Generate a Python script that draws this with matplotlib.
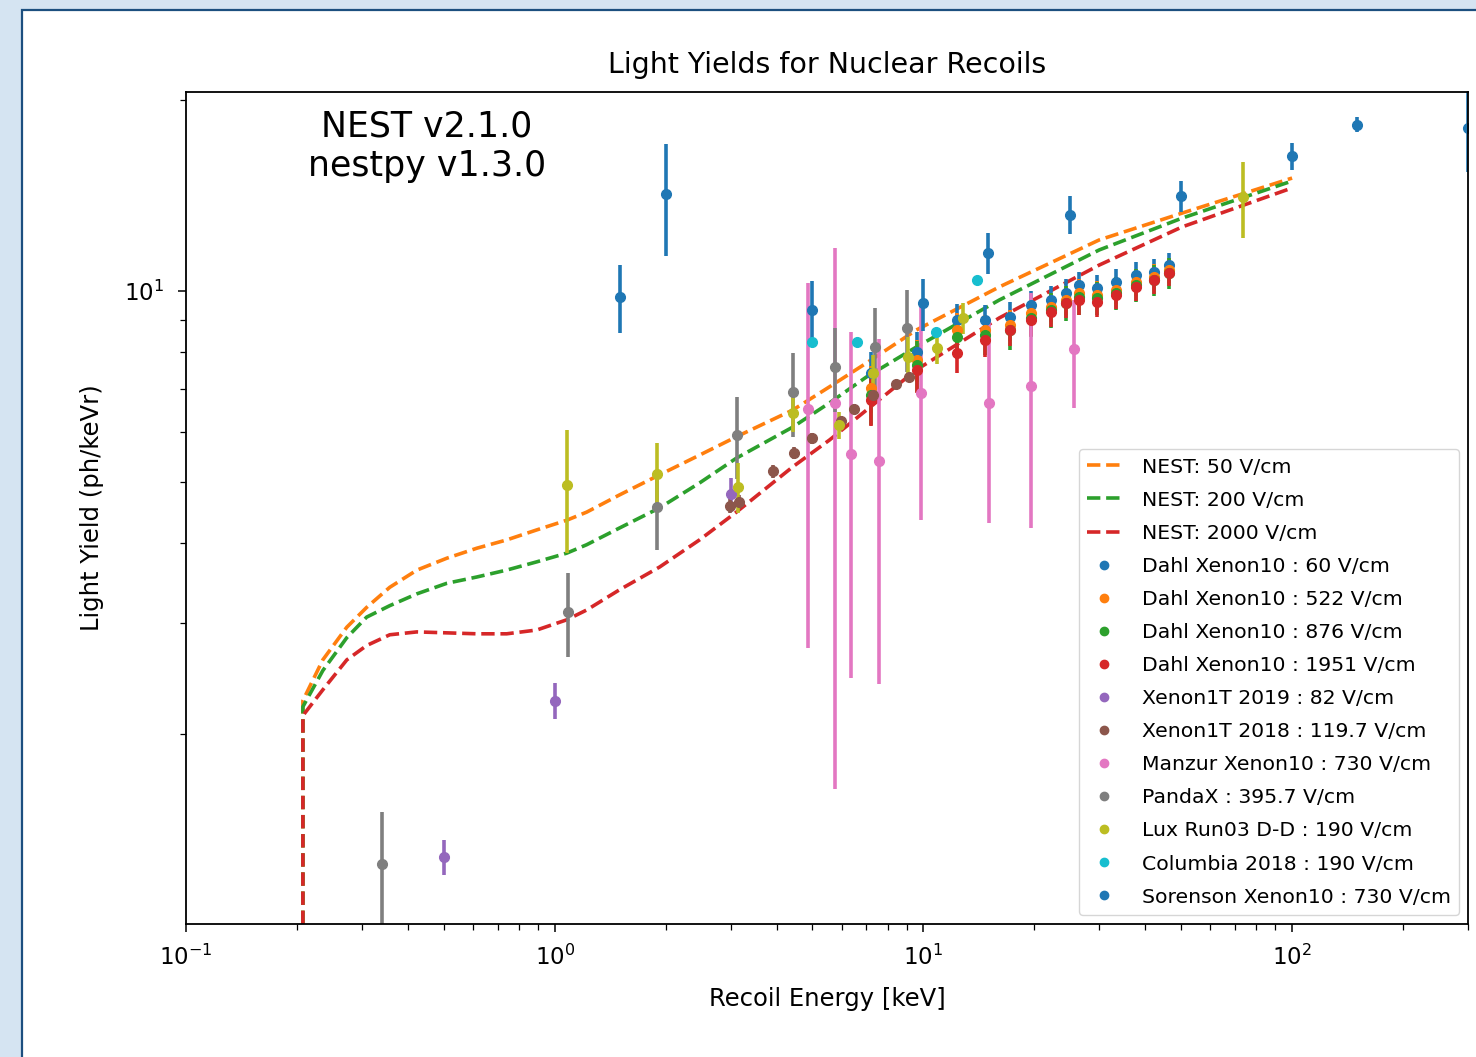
import matplotlib.pyplot as plt
from matplotlib.lines import Line2D
from matplotlib.patches import Rectangle
from matplotlib.ticker import NullFormatter

# NEST yield curves (keV, ph/keV)
nest_energy = [0.207, 0.2075, 0.235, 0.273, 0.309, 0.357, 0.423, 0.51, 0.615, 0.741, 0.894,
               1.078, 1.221, 1.5, 1.925, 2.47, 3.11, 4.42, 5.56, 7.01, 9.57, 16.07, 30.0, 50.3, 100.0]
nest_50 = [0.0, 2.26, 2.62, 2.95, 3.17, 3.41, 3.63, 3.79, 3.93, 4.05, 4.20,
           4.35, 4.48, 4.77, 5.13, 5.51, 5.89, 6.49, 7.06, 7.70, 8.68, 10.15, 12.04, 13.27, 15.07]
nest_200 = [0.0, 2.21, 2.52, 2.84, 3.06, 3.19, 3.33, 3.46, 3.54, 3.63, 3.74,
            3.86, 3.98, 4.23, 4.55, 4.98, 5.45, 6.10, 6.66, 7.32, 8.16, 9.68, 11.61, 13.03, 14.91]
nest_2000 = [0.0, 2.14, 2.35, 2.62, 2.76, 2.87, 2.90, 2.89, 2.88, 2.88, 2.92,
             3.03, 3.14, 3.38, 3.67, 4.05, 4.48, 5.28, 5.82, 6.49, 7.51, 9.07, 10.99, 12.62, 14.54]

# Dahl Xenon10
dahl_energy = [7.2, 9.6, 12.3, 14.7, 17.2, 19.6, 22.2, 24.4, 26.5, 29.5, 33.4, 37.8, 42.3, 46.4]
dahl_60 = [7.42, 8.01, 9.00, 9.00, 9.10, 9.50, 9.68, 9.93, 10.22, 10.11, 10.33, 10.60, 10.72, 10.99]
dahl_60_err = [0.6, 0.6, 0.55, 0.5, 0.5, 0.5, 0.5, 0.5, 0.5, 0.5, 0.5, 0.5, 0.5, 0.5]
dahl_522 = [7.03, 7.78, 8.68, 8.68, 8.84, 9.23, 9.44, 9.68, 9.93, 9.86, 10.04, 10.33, 10.52, 10.79]
dahl_522_err = [0.6, 0.6, 0.55, 0.5, 0.5, 0.5, 0.5, 0.5, 0.5, 0.5, 0.5, 0.5, 0.5, 0.5]
dahl_876 = [6.85, 7.64, 8.46, 8.52, 8.68, 9.07, 9.33, 9.57, 9.78, 9.75, 9.93, 10.22, 10.41, 10.68]
dahl_876_err = [0.7, 0.7, 0.65, 0.6, 0.6, 0.6, 0.6, 0.6, 0.6, 0.6, 0.6, 0.6, 0.6, 0.6]
dahl_1951 = [6.73, 7.51, 7.98, 8.37, 8.68, 9.00, 9.27, 9.57, 9.68, 9.61, 9.86, 10.15, 10.41, 10.68]
dahl_1951_err = [0.6, 0.6, 0.55, 0.5, 0.5, 0.5, 0.5, 0.5, 0.5, 0.5, 0.5, 0.5, 0.5, 0.5]

# Xenon1T 2019
x1t19_energy = [0.5, 1.0, 3.0]
x1t19_yield = [1.28, 2.26, 4.78]
x1t19_err = [0.08, 0.15, 0.29]

# Xenon1T 2018
x1t18_energy = [2.98, 3.17, 3.90, 4.47, 5.00, 5.96, 6.50, 7.32, 8.45, 9.16]
x1t18_yield = [4.58, 4.65, 5.20, 5.55, 5.86, 6.24, 6.52, 6.86, 7.13, 7.32]
x1t18_err = [0.12, 0.12, 0.12, 0.12, 0.12, 0.12, 0.12, 0.12, 0.12, 0.12]

# Manzur Xenon10
manzur_energy = [4.85, 5.74, 6.38, 7.60, 9.88, 15.1, 19.6, 25.6]
manzur_yield = [6.52, 6.67, 5.53, 5.40, 6.90, 6.65, 7.08, 8.10]
manzur_err = [3.78, 5.03, 3.08, 3.00, 2.54, 2.35, 2.85, 1.57]

# PandaX
pandax_energy = [0.34, 1.09, 1.90, 3.13, 4.44, 5.74, 7.41, 9.05]
pandax_yield = [1.25, 3.12, 4.56, 5.93, 6.93, 7.60, 8.16, 8.74]
pandax_err = [0.26, 0.47, 0.66, 0.87, 1.05, 1.15, 1.24, 1.30]

# Lux Run03 D-D
lux_energy = [1.08, 1.90, 3.15, 4.44, 5.92, 7.30, 9.10, 10.9, 12.8, 73.6]
lux_yield = [4.95, 5.15, 4.91, 6.42, 6.15, 7.42, 7.87, 8.13, 9.07, 14.05]
lux_err = [1.09, 0.60, 0.44, 0.42, 0.30, 0.50, 0.60, 0.45, 0.50, 1.93]

# Columbia 2018
columbia_energy = [5.0, 6.62, 10.8, 14.0]
columbia_yield = [8.31, 8.31, 8.62, 10.4]
columbia_err = [0.1, 0.1, 0.1, 0.1]

# Sorenson Xenon10
sorenson_energy = [1.5, 2.0, 5.0, 10.0, 15.0, 25.0, 50.0, 100.0, 150.0, 300.0]
sorenson_yield = [9.78, 14.2, 9.33, 9.56, 11.5, 13.2, 14.1, 16.3, 18.3, 18.1]
sorenson_err = [1.2, 2.85, 1.05, 0.9, 0.85, 0.9, 0.8, 0.8, 0.5, 2.7]

datasets = [
    ("Dahl Xenon10 : 60 V/cm", dahl_energy, dahl_60, dahl_60_err, "tab:blue"),
    ("Dahl Xenon10 : 522 V/cm", dahl_energy, dahl_522, dahl_522_err, "tab:orange"),
    ("Dahl Xenon10 : 876 V/cm", dahl_energy, dahl_876, dahl_876_err, "tab:green"),
    ("Dahl Xenon10 : 1951 V/cm", dahl_energy, dahl_1951, dahl_1951_err, "tab:red"),
    ("Xenon1T 2019 : 82 V/cm", x1t19_energy, x1t19_yield, x1t19_err, "tab:purple"),
    ("Xenon1T 2018 : 119.7 V/cm", x1t18_energy, x1t18_yield, x1t18_err, "tab:brown"),
    ("Manzur Xenon10 : 730 V/cm", manzur_energy, manzur_yield, manzur_err, "tab:pink"),
    ("PandaX : 395.7 V/cm", pandax_energy, pandax_yield, pandax_err, "tab:gray"),
    ("Lux Run03 D-D : 190 V/cm", lux_energy, lux_yield, lux_err, "tab:olive"),
    ("Columbia 2018 : 190 V/cm", columbia_energy, columbia_yield, columbia_err, "tab:cyan"),
    ("Sorenson Xenon10 : 730 V/cm", sorenson_energy, sorenson_yield, sorenson_err, "tab:blue"),
]

fig = plt.figure(figsize=(14.76, 10.57), dpi=100)
fig.patch.set_facecolor("#d5e4f2")
# notebook-style white panel with a dark border
fig.add_artist(Rectangle((22 / 1476, -0.02), 1.0, 1.02 - 10 / 1057, transform=fig.transFigure,
                         facecolor="white", edgecolor="#1c4f7f", linewidth=1.6, zorder=-1))

ax = fig.add_axes([186 / 1476, 1 - 924 / 1057, (1468 - 186) / 1476, (924 - 92) / 1057])

handles = []
for lab, yy, col in [("NEST: 50 V/cm", nest_50, "tab:orange"),
                     ("NEST: 200 V/cm", nest_200, "tab:green"),
                     ("NEST: 2000 V/cm", nest_2000, "tab:red")]:
    ln, = ax.plot(nest_energy, yy, "--", color=col, lw=2.6, label=lab)
    handles.append(ln)

for lab, e, y, err, col in datasets:
    ax.errorbar(e, y, yerr=err, fmt="o", color=col, ms=7, elinewidth=2.6, capsize=0)
    handles.append(Line2D([], [], marker="o", ls="none", color=col, ms=6, label=lab))

ax.set_xscale("log")
ax.set_yscale("log")
ax.set_xlim(0.1, 300)
ax.set_ylim(1.004, 20.6)
ax.yaxis.set_minor_formatter(NullFormatter())
ax.xaxis.set_minor_formatter(NullFormatter())

ax.tick_params(which="major", labelsize=16.5, length=6, width=1.1)
ax.tick_params(which="minor", length=4, width=0.9)
ax.tick_params(axis="x", which="major", pad=9)
ax.tick_params(axis="y", which="major", pad=10)
for sp in ax.spines.values():
    sp.set_linewidth(1.3)

ax.set_title("Light Yields for Nuclear Recoils", fontsize=20.5, pad=14)
ax.set_xlabel("Recoil Energy [keV]", fontsize=17.5, labelpad=12)
ax.set_ylabel("Light Yield (ph/keVr)", fontsize=17.5, labelpad=14)

ax.text(0.188, 0.935, "NEST v2.1.0\nnestpy v1.3.0", transform=ax.transAxes,
        ha="center", va="center", multialignment="center", fontsize=25, linespacing=1.2)

ax.legend(handles=handles, loc="lower right", fontsize=14.7, framealpha=0.8, edgecolor="0.8",
          labelspacing=0.69, handlelength=1.67, handletextpad=1.0, borderaxespad=0.45)

fig.savefig("out.png", dpi=100)
